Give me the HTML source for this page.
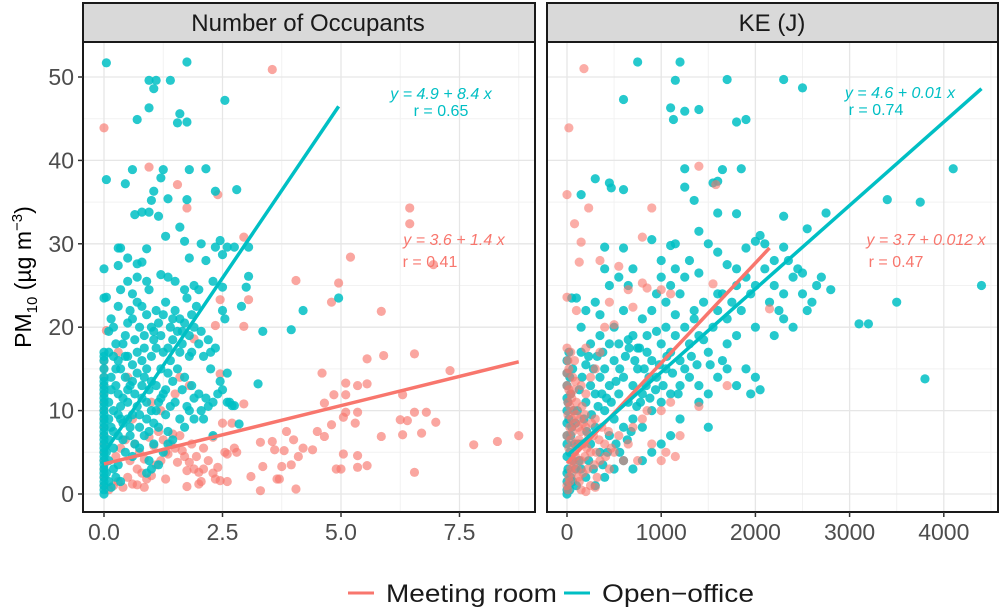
<!DOCTYPE html>
<html><head><meta charset="utf-8">
<style>
body{margin:0;background:#fff;}
svg{display:block;font-family:"Liberation Sans",Arial,sans-serif;}
</style></head>
<body>
<svg id="chart" width="1001" height="610" viewBox="0 0 1001 610">
  <defs>
    <clipPath id="clipL"><rect x="83" y="42" width="452" height="470"/></clipPath>
    <clipPath id="clipR"><rect x="547" y="42" width="451" height="470"/></clipPath>
  </defs>
  <g id="gridL"></g>
  <g id="gridR"></g>
  <g id="ptsL" clip-path="url(#clipL)"></g>
  <g id="ptsR" clip-path="url(#clipR)"></g>
  <g id="fitL" clip-path="url(#clipL)"></g>
  <g id="fitR" clip-path="url(#clipR)"></g>
  <rect x="83" y="42" width="452" height="470" fill="none" stroke="#1a1a1a" stroke-width="2"/>
  <rect x="547" y="42" width="451" height="470" fill="none" stroke="#1a1a1a" stroke-width="2"/>
  <rect x="83" y="3" width="452" height="39" fill="#d9d9d9" stroke="#1a1a1a" stroke-width="2"/>
  <rect x="547" y="3" width="451" height="39" fill="#d9d9d9" stroke="#1a1a1a" stroke-width="2"/>
  <text x="308" y="31" font-size="24" text-anchor="middle" fill="#1a1a1a">Number of Occupants</text>
  <text x="772" y="31" font-size="24" text-anchor="middle" fill="#1a1a1a">KE (J)</text>
  <g id="yticks"></g>
  <g id="xticksL"></g>
  <g id="xticksR"></g>
  <text transform="translate(31,277) rotate(-90)" font-size="23" text-anchor="middle" fill="#000">PM<tspan font-size="15" dy="6">10</tspan><tspan dy="-6"> (µg m</tspan><tspan font-size="15" dy="-9">−3</tspan><tspan dy="9">)</tspan></text>
  <g font-style="italic" font-size="16">
    <text x="441" y="99" text-anchor="middle" fill="#00BFC4">y = 4.9 + 8.4 x</text>
    <text x="441" y="116" text-anchor="middle" fill="#00BFC4" font-style="normal">r = 0.65</text>
    <text x="454" y="245" text-anchor="middle" fill="#F8766D">y = 3.6 + 1.4 x</text>
    <text x="430" y="267" text-anchor="middle" fill="#F8766D" font-style="normal">r = 0.41</text>
    <text x="900" y="98" text-anchor="middle" fill="#00BFC4">y = 4.6 + 0.01 x</text>
    <text x="876" y="115" text-anchor="middle" fill="#00BFC4" font-style="normal">r = 0.74</text>
    <text x="926" y="245" text-anchor="middle" fill="#F8766D">y = 3.7 + 0.012 x</text>
    <text x="896" y="267" text-anchor="middle" fill="#F8766D" font-style="normal">r = 0.47</text>
  </g>
  <g>
    <g>
      <line x1="348" y1="593" x2="374" y2="593" stroke="#F8766D" stroke-width="3"/>
      <text x="386" y="602" font-size="25" fill="#1a1a1a" textLength="171" lengthAdjust="spacingAndGlyphs">Meeting room</text>
    </g>
    <g>
      <line x1="564" y1="593" x2="590" y2="593" stroke="#00BFC4" stroke-width="3"/>
      <text x="602" y="602" font-size="25" fill="#1a1a1a" textLength="152" lengthAdjust="spacingAndGlyphs">Open−office</text>
    </g>
  </g>
</svg>
<script>
const yTicks = [0,10,20,30,40,50];
const xTicksL = [0,2.5,5,7.5];
const xTickLabelsL = ["0.0","2.5","5.0","7.5"];
const xTicksR = [0,1000,2000,3000,4000];
const xTickLabelsR = ["0","1000","2000","3000","4000"];
const fitLeftOpen = [4.9, 8.4, 0, 4.95];
const fitLeftMeeting = [3.6, 1.4, 0, 8.75];
const fitRightOpen = [4.6, 0.01, 0, 4400];
const fitRightMeeting = [3.7, 0.012, 0, 2150];

const leftOpen = [[0.05,51.7],[1.75,51.8],[0.95,49.6],[1.1,49.6],[1.4,49.6],[1.05,48.6],[0.95,46.3],[2.55,47.2],[1.6,45.6],[1.55,44.5],[1.75,44.6],[0.7,44.9],[0.05,37.7],[0.6,38.9],[1.25,38.9],[1.8,38.9],[2.15,39],[0.45,37.2],[1.2,37.9],[1.05,36.3],[2.35,36.3],[2.8,36.5],[1.35,35.4],[1.75,35.3],[1.0,35.2],[0.65,33.5],[0.8,33.8],[1.15,33.3],[0.95,33.8],[1.6,32],[1.3,30.9],[1.7,30.3],[2.05,30],[2.45,30.4],[2.6,29.6],[2.75,29.6],[2.35,29.6],[3.05,29.6],[0.3,29.5],[0.35,29.5],[0.9,29.4],[1.8,28.3],[2.15,28],[2.5,28.7],[0,27],[0.5,28.3],[0.8,27.8],[0.7,27.6],[0.3,27.4],[3.05,26.1],[3.0,24.8],[2.5,24.8],[2.9,22.5],[4.2,22],[4.95,23.5],[3.35,19.5],[3.95,19.7],[3.25,13.2],[2.3,7],[2.85,8.4],[2.7,10.6],
[0,0],[0,0.5],[0,1],[0,1.5],[0,2],[0,2.5],[0,3],[0,3.5],[0,4],[0,4.5],[0,5],[0,5.5],[0,6],[0,6.5],[0,7],[0,7.5],[0,8],[0,8.5],[0,9],[0,9.5],[0,10],[0,10.5],[0,11],[0,11.5],[0,12],[0,12.5],[0,13],[0,13.5],[0,14],[0,15],[0,16],[0,16.5],[0,17],[0,23.5],[0.05,23.6],
[0.1,17],[0.2,16.5],[0.15,14],[0.25,13],[0.3,12],[0.1,11],[0.2,10],[0.35,9],[0.15,8],[0.3,7],[0.4,6.5],[0.2,5.5],[0.45,5],[0.1,4],[0.3,3.5],[0.5,11],[0.55,13],[0.6,9.5],[0.65,12],[0.7,10.5],[0.75,8],[0.8,11.5],[0.85,14],[0.9,9],[0.95,12.5],[1.0,10],[1.05,8.5],[1.1,13],[1.15,11],[1.2,15],[1.25,12],[1.3,9.5],[1.35,14.5],[1.4,16],[1.45,13.5],[1.5,11],[1.55,15],[1.6,17],[1.65,12.5],[1.7,14],[1.75,10.5],[1.8,16.5],[1.85,13],[1.9,11.5],[2.0,12],[2.05,10],[2.15,11.5],[2.25,17],[2.35,17.5],[2.4,12],[2.5,12.5],[2.6,11],[2.65,11],[2.75,10.6],[2.1,9],[2.2,10.5],[0.4,18],[0.45,19],[0.5,20.5],[0.55,22],[0.6,21],[0.7,23],[0.75,20],[0.8,22.5],[0.85,19],[0.9,21.5],[0.95,24.5],[1.0,20],[1.05,18.5],[1.1,22],[1.15,20.5],[1.2,19],[1.25,21.5],[1.3,23],[1.35,17.5],[1.4,20],[1.45,18.5],[1.5,22],[1.55,19.5],[1.6,21],[1.65,18],[1.7,20.5],[1.75,23.5],[1.8,19],[1.85,17],[1.9,20],[1.95,22.5],[2.0,18],[2.1,16.5],[2.2,18.5],[0.3,22.5],[0.35,24.5],[0.5,25.5],[0.6,24],[0.7,26],[0.9,25.5],[1.2,26.3],[1.35,26],[1.5,25.5],[1.7,24.5],[1.9,25],[2.0,24.5],[2.3,25.5],[2.5,22],[2.55,21],[0.2,20],[0.25,18],[0.15,21],[0.1,19.5],[0.3,16],[0.35,15],[0.45,14],[0.5,16.5],[0.6,15.5],[0.7,17],[0.8,16],[0.9,15],[1.0,16.5],[1.1,17.5],[0.55,7],[0.65,6],[0.75,5.5],[0.85,7],[0.95,4],[1.05,6],[1.15,3.5],[1.25,5],[1.35,7.5],[1.45,6.5],[0.4,8.5],[0.5,9],[0.6,4.5],[0.2,3],[0.25,2],[0.35,1.5],[0.15,0.8],[1.0,3],[0.9,2.5],[1.6,9],[1.7,8],[1.8,10],[1.9,9],[2.3,11],[2.45,13.5],[2.6,14.5],
[0.1,6.5],[0.2,7.5],[0.3,9.5],[0.4,11.5],[0.5,12.5],[0.6,13.5],[0.7,14.5],[0.8,13],[0.9,11],[1.0,13.5],[1.1,10],[1.2,11.5],[1.3,12.5],[1.4,10.5],[0.25,15],[0.45,16.5],[0.65,18.5],[0.85,17.5],[1.05,19.5],[1.25,17],[1.45,21],[1.65,19.5],[1.85,21.5],[2.05,19.5],[2.25,15],[0.15,12.5],[0.35,10.5],[0.55,8],[0.75,9.5],[0.95,7.5],[1.15,8],[1.35,6],[0.05,2.5],[0.1,1.5],[0.05,5],[0.1,9]];

const leftMeeting = [[0,43.9],[3.55,50.9],[0.95,39.2],[1.55,37.1],[2.4,35.9],[1.75,34.3],[6.45,34.3],[6.45,32.4],[2.95,30.8],[5.2,28.4],[6.95,27.5],[4.05,25.6],[4.95,25.3],[2.45,23.3],[3.05,23.3],[4.8,23],[5.85,21.9],[2.95,20.1],[2.35,20.2],[0.05,19.6],[1.9,18.6],[5.55,16.2],[5.9,16.6],[6.55,16.8],[4.6,14.5],[7.3,14.8],[2.45,14.4],[5.1,13.3],[5.35,13],[5.55,13.2],[4.85,11.9],[6.3,11.9],[5.1,11.9],[4.65,10.9],[2.95,10.8],[5.1,9.8],[5.35,9.8],[6.55,9.8],[6.8,9.8],[6.25,8.9],[6.4,8.8],[7.0,8.6],[5.05,9.2],[5.3,8.5],[4.8,8.3],[3.85,7.5],[4.5,7.5],[6.3,7.1],[6.7,7.3],[5.85,6.9],[4.65,6.9],[8.75,7],[7.8,5.9],[8.3,6.3],[4.2,5.5],[4.4,5.3],[4.0,6.5],[5.05,4.8],[5.35,4.6],[5.55,3.4],[5.35,3.2],[4.9,3.0],[5.0,3.0],[6.55,2.6],[4.05,0.6],[3.3,0.4],[3.65,1.8],[3.7,1.8],[3.1,2.1],[3.75,3.3],[3.35,3.3],[3.3,6.2],[3.55,6.3],[3.6,5.3],[3.8,5.2],[4.1,4.5],[3.95,3.5],[2.75,5.5],[2.55,5],[2.1,3],[2.35,1.8],[2.45,1.6],[1.75,0.9],[2.05,1.5],[2.0,1.2],[1.3,1.8],[0.85,0.8],[0.7,1.1],
[0,1],[0,2],[0,3],[0,4],[0,5],[0,6],[0,7],[0,8],[0,9],[0,10],[0,11],[0,12],[0,13],[0,14],[0,15],[0,16],[0.1,0.5],[0.2,1],[0.3,1.5],[0.4,0.8],[0.5,2],[0.6,1.2],[0.7,3],[0.8,2.5],[0.9,1.8],[1.0,2.2],[1.1,3.5],[1.2,4],[1.3,5],[1.4,6],[1.5,5.5],[1.6,7],[1.7,4.5],[1.8,3.8],[1.9,3],[2.0,2.6],[2.2,4],[2.4,3.2],[2.6,4.8],[2.8,5],[0.25,4.5],[0.35,5.5],[0.45,6.5],[0.55,4],[0.65,6],[0.75,5],[0.85,4.2],[0.95,6.8],[1.05,5.8],[1.15,7.5],[1.25,6.5],[1.35,4.8],[1.45,7.2],[1.55,3.8],[1.65,5.2],[1.75,2.8],[1.85,6],[1.95,4.5],[2.1,5.5],[2.3,6.8],[2.5,8.5],[2.7,8.5],[2.3,2.5],[2.6,1.5],[1.5,12],[1.2,10],[0.5,14],[0.3,17],[0.6,9],[1.0,11],[1.6,14],[1.8,13]];

const rightOpen = [[750,51.8],[1200,51.8],[1150,49.6],[1700,49.7],[2300,49.7],[2500,48.7],[600,47.3],[1100,46.3],[1250,45.9],[1400,46.1],[1130,44.9],[1800,44.6],[1900,44.9],[1250,39],[1850,39],[1650,38.9],[1600,37.5],[1550,37.3],[4100,39],[300,37.8],[450,37.3],[600,36.5],[470,36.7],[1250,36.8],[150,35.9],[1350,35.2],[3400,35.3],[3750,35],[1600,33.7],[1800,33.6],[2300,33.3],[2750,33.7],[2550,31.8],[2000,30.3],[400,29.6],[1100,29.8],[1150,30],[2300,29.6],[4400,25],[3500,23],[3100,20.4],[3200,20.4],[3800,13.8],[2600,23],[2500,26.5],[2800,24.5],[2650,25],
[0,0],[20,1],[40,2],[10,3],[60,4],[30,5],[80,6],[0,7],[50,8],[20,9],[70,10],[10,11],[40,12],[0,13],[30,14],[60,15],[0,16],[20,17],[100,1],[150,3],[120,6],[180,9],[200,11],[250,13],[300,12],[350,14],[400,15],[450,13],[500,16],[550,12],[600,14],[300,8],[400,10],[500,9],[250,6],[350,5],[450,7],[600,8],[650,11],[700,13],[750,15],[800,12],[850,17],[900,16],[950,14],[1000,18],[1050,15],[1100,17],[1150,19],[1200,16],[1250,20],[1300,18],[1350,21],[1400,19],[1450,23],[1500,17],[1550,20],[1600,22],[1650,24],[1700,21],[1750,23],[1800,25],[1850,22],[1900,26],[1950,24],[2000,25],[2100,27],[2150,23],[2200,25],[2250,22],[2300,24],[2350,28],[2400,26],[2450,27],[2500,24],[2550,22],[700,19],[800,21],[900,22],[950,24],[1000,26],[1050,23],[1100,25],[1150,27],[1200,24],[1250,26],[1300,28],[1350,22],[500,20],[600,22],[650,25],[550,26],[400,27],[450,25],[300,23],[200,22],[150,20],[100,23.5],[50,23.5],[350,19],[250,18],[150,17],[700,9],[800,8],[900,10],[1000,11],[1100,12],[1200,13],[1300,14],[1400,13],[1500,12],[1600,14],[1700,15],[1800,13],[1900,15],[2000,14],[2050,12.5],[1950,12],[1650,16],[1500,8],[1400,11],[1200,9],[1100,7],[1000,6],[900,5],[800,4],[700,3],[600,4],[500,3],[400,2],[300,1],[200,2],[1600,24],[1700,18],[1800,19],[2000,20],[2200,19],[2300,21],[2400,20],[2700,26],[1900,29.5],[2100,30],[2200,28],[600,29.5],[700,27],[1000,28],[1500,30],[1600,29],[1700,27.5],[1400,26.5],[1800,27],[2050,31],[1400,31.5],[900,30.5],
[0,0.5],[0,1.5],[0,2.5],[0,4.5],[0,6],[0,8.5],[0,10],[0,11.5],[0,14.5],[30,0.5],[60,1.5],[90,3],[40,7],[90,8.5],[110,10],[130,12.5],[160,14],[200,15.5],[230,16.5],[280,15],[320,16.5],[380,17],[420,11.5],[470,11],[520,13.5],[560,15],[620,16.5],[660,17.5],[720,16],[770,17.5],[820,15],[870,14],[330,10.5],[370,12],[260,9.5],[210,7.5],[160,6],[130,4],[230,4],[280,3],[380,3.5],[430,5],[520,6],[560,5],[640,6.5],[680,7.5],[740,10.5],[780,11],[840,13],[880,11.5],[940,12.5],[980,15.5],[1020,13],[1060,16.5],[1120,14.5],[1180,12],[1250,15],[1320,16.5],[1380,15.5],[1450,18.5],[1520,15.5],[1150,21.5],[1050,20],[950,19.5],[850,19],[750,17.5],[650,18.5],[550,18],[450,18],[350,21.5]];

const rightMeeting = [[0,1],[20,2],[40,3],[60,4],[80,5],[100,6],[0,7],[30,8],[50,9],[70,10],[10,11],[40,12],[0,13],[60,14],[20,15],[80,16],[120,2],[150,4],[180,6],[200,8],[220,3],[250,5],[280,7],[300,9],[320,2],[350,4],[400,6],[450,3],[500,5],[550,7],[600,4],[650,6],[700,8],[750,4],[800,9],[850,10],[900,6],[1000,10],[1100,11],[1200,7],[100,11],[150,13],[200,12],[250,14],[300,15],[350,17],[400,20],[450,23],[500,20.3],[550,27.3],[650,24.5],[700,22.4],[800,25.3],[850,24.7],[1100,24],[1000,24.5],[1400,39.3],[1580,37.1],[900,34.3],[800,30.8],[150,30.2],[130,27.8],[350,28],[230,34.3],[80,32.4],[20,43.9],[180,51],[0,35.9],[0,23.6],[100,22],[200,17.5],[1550,25.2],[2150,22.2],[1700,13],[1400,10.5],[1000,4],[1050,5],[1150,4.5],[150,0.5],[250,1],[300,0.8],[200,0.3],
[10,0.5],[30,1.5],[50,2.5],[70,3.5],[90,4.5],[110,5.5],[130,6.5],[150,7.5],[170,8.5],[190,9.5],[20,5.5],[40,6.5],[60,7.5],[80,8.5],[100,9.5],[120,8],[140,9],[160,10.5],[10,9.5],[30,10.5],[50,11.5],[70,12.5],[90,13.5],[110,3],[130,1.5],[170,2.5],[190,4.5],[210,5.5],[230,7],[260,8.5],[290,3.5],[310,5],[340,6.5],[370,8],[410,4.5],[440,7.5],[470,5.5],[20,12.5],[0,14.5],[10,16],[40,17],[0,17.5]];

const NS = "http://www.w3.org/2000/svg";
const Y0 = 494, YS = 8.34;
function yPos(v){ return Y0 - v*YS; }
function xL(v){ return 104 + v*47.4; }
function xR(v){ return 567 + v*0.0942; }
function mk(tag, attrs, parent){
  const e = document.createElementNS(NS, tag);
  for (const k in attrs) e.setAttribute(k, attrs[k]);
  parent.appendChild(e);
  return e;
}
function grid(g, x0, x1, xs, xMinor, xf){
  mk('rect',{x:x0,y:42,width:x1-x0,height:470,fill:'#fff'},g);
  for (let v=5; v<=55; v+=10){ const y=yPos(v); if(y>42) mk('line',{x1:x0,x2:x1,y1:y,y2:y,stroke:'#f2f2f2','stroke-width':1},g); }
  xMinor.forEach(v=>{ const x=xf(v); mk('line',{x1:x,x2:x,y1:42,y2:512,stroke:'#f2f2f2','stroke-width':1},g); });
  yTicks.forEach(v=>{ const y=yPos(v); mk('line',{x1:x0,x2:x1,y1:y,y2:y,stroke:'#e6e6e6','stroke-width':1.3},g); });
  xs.forEach(v=>{ const x=xf(v); mk('line',{x1:x,x2:x,y1:42,y2:512,stroke:'#e6e6e6','stroke-width':1.3},g); });
}
grid(document.getElementById('gridL'),83,535,xTicksL,[1.25,3.75,6.25,8.75],xL);
grid(document.getElementById('gridR'),547,998,xTicksR,[500,1500,2500,3500,4500],xR);

const yt = document.getElementById('yticks');
yTicks.forEach(v=>{
  const y=yPos(v);
  const l = mk('line',{x1:78,x2:83,y1:y,y2:y,stroke:'#333','stroke-width':1.5},yt);
  
  
  const t = mk('text',{x:74,y:y+8,'font-size':23,'text-anchor':'end',fill:'#4d4d4d'},yt);
  t.textContent = v;
  
  
});
function xt(g, ticks, labels, xf){
  ticks.forEach((v,i)=>{
    const x=xf(v);
    const l = mk('line',{x1:x,x2:x,y1:512,y2:517,stroke:'#333','stroke-width':1.5},g);
    
    
    const t = mk('text',{x:x,y:540,'font-size':23,'text-anchor':'middle',fill:'#4d4d4d'},g);
    t.textContent = labels[i];
    
    
  });
}
xt(document.getElementById('xticksL'),xTicksL,xTickLabelsL,xL);
xt(document.getElementById('xticksR'),xTicksR,xTickLabelsR,xR);

function pts(g, data, xf, color, op, name){
  data.forEach(d=>{
    const c = mk('circle',{cx:xf(d[0]),cy:yPos(d[1]),r:4.6,fill:color,'fill-opacity':op},g);
    
    
  });
}
const pL = document.getElementById('ptsL'), pR = document.getElementById('ptsR');
pts(pL,leftMeeting,xL,'#F8766D',0.65,'meeting-room-point');
pts(pL,leftOpen,xL,'#00BFC4',0.85,'open-office-point');
pts(pR,rightOpen,xR,'#00BFC4',0.85,'open-office-point');
pts(pR,rightMeeting,xR,'#F8766D',0.6,'meeting-room-point');

function fit(g, f, xf, color, name){
  const l = mk('line',{x1:xf(f[2]),y1:yPos(f[0]+f[1]*f[2]),x2:xf(f[3]),y2:yPos(f[0]+f[1]*f[3]),stroke:color,'stroke-width':3.5},g);
  
  
}
fit(document.getElementById('fitL'),fitLeftMeeting,xL,'#F8766D','meeting-room-fit-line');
fit(document.getElementById('fitL'),fitLeftOpen,xL,'#00BFC4','open-office-fit-line');
fit(document.getElementById('fitR'),fitRightMeeting,xR,'#F8766D','meeting-room-fit-line');
fit(document.getElementById('fitR'),fitRightOpen,xR,'#00BFC4','open-office-fit-line');
</script>
</body></html>
